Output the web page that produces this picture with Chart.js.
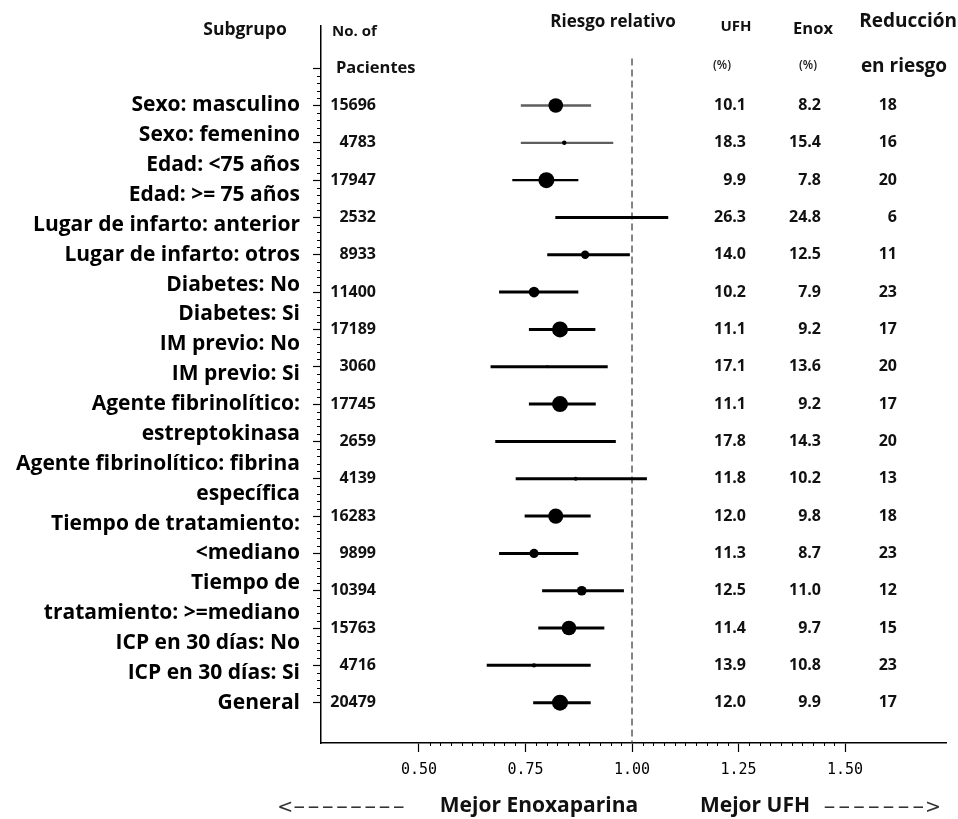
<!DOCTYPE html>
<html>
<head>
<meta charset="utf-8">
<script src="https://cdn.jsdelivr.net/npm/chart.js@4.4.1/dist/chart.umd.min.js"></script>
<style>
  html, body { margin: 0; padding: 0; background: #fff; }
  #wrap { width: 958px; height: 819px; position: relative; }
</style>
</head>
<body>
<div id="wrap"><canvas id="c" width="958" height="819"></canvas></div>
<script>
// ---------------- DATA ----------------
const subgroupLabels = [
  'Sexo: masculino', 'Sexo: femenino', 'Edad: <75 años', 'Edad: >= 75 años',
  'Lugar de infarto: anterior', 'Lugar de infarto: otros', 'Diabetes: No', 'Diabetes: Si',
  'IM previo: No', 'IM previo: Si', 'Agente fibrinolítico:', 'estreptokinasa',
  'Agente fibrinolítico: fibrina', 'específica', 'Tiempo de tratamiento:', '<mediano',
  'Tiempo de', 'tratamiento: >=mediano', 'ICP en 30 días: No', 'ICP en 30 días: Si', 'General'
];
const patients = [15696, 4783, 17947, 2532, 8933, 11400, 17189, 3060, 17745, 2659, 4139, 16283, 9899, 10394, 15763, 4716, 20479];
const relativeRisk = [0.821, 0.841, 0.799, 0.939, 0.890, 0.770, 0.831, 0.801, 0.831, 0.799, 0.868, 0.821, 0.770, 0.882, 0.852, 0.770, 0.831];
const ciLower = [0.739, 0.739, 0.719, 0.820, 0.801, 0.688, 0.758, 0.668, 0.758, 0.679, 0.727, 0.748, 0.688, 0.789, 0.780, 0.659, 0.768];
const ciUpper = [0.904, 0.956, 0.874, 1.085, 0.995, 0.874, 0.914, 0.943, 0.915, 0.962, 1.035, 0.903, 0.874, 0.981, 0.935, 0.903, 0.903];
const ufhPct = [10.1, 18.3, 9.9, 26.3, 14.0, 10.2, 11.1, 17.1, 11.1, 17.8, 11.8, 12.0, 11.3, 12.5, 11.4, 13.9, 12.0];
const enoxPct = [8.2, 15.4, 7.8, 24.8, 12.5, 7.9, 9.2, 13.6, 9.2, 14.3, 10.2, 9.8, 8.7, 11.0, 9.7, 10.8, 9.9];
const riskReduction = [18, 16, 20, 6, 11, 23, 17, 20, 17, 20, 13, 18, 23, 12, 15, 23, 17];
const xTickValues = [0.50, 0.75, 1.00, 1.25, 1.50];
const referenceRR = 1.00;

// ---------------- BUILD ----------------
const rows = patients.map((_, i) => i);
const labelPositions = subgroupLabels.map((_, i) => i * 0.8);
const Y_MIN = -2.14, Y_MAX = 17.08;
const markerRadius = n => Math.max(1.1, Math.min(8, n / 2150));

const ciDatasets = rows.map(i => ({
  type: 'scatter',
  showLine: true,
  data: [{ x: ciLower[i], y: i }, { x: ciUpper[i], y: i }],
  borderColor: i < 2 ? '#5e5e5e' : '#000',
  borderWidth: i < 3 ? 2.3 : 3,
  pointRadius: 0,
  order: 2
}));

const pointDataset = {
  type: 'scatter',
  data: rows.map(i => ({ x: relativeRisk[i], y: i })),
  backgroundColor: '#000',
  borderColor: '#000',
  borderWidth: 0,
  pointRadius: ctx => markerRadius(patients[ctx.dataIndex]),
  pointHoverRadius: ctx => markerRadius(patients[ctx.dataIndex]),
  order: 0
};

const refDataset = {
  type: 'scatter',
  showLine: true,
  data: [{ x: referenceRR, y: -1.26 }, { x: referenceRR, y: Y_MAX }],
  borderColor: '#444',
  borderWidth: 1.3,
  borderDash: [7, 4],
  pointRadius: 0,
  order: 3
};

const minorTicks = {
  id: 'minorTicks',
  afterDraw(chart) {
    const ctx = chart.ctx;
    const xs = chart.scales.x, ys = chart.scales.y;
    const left = chart.chartArea.left, bottom = chart.chartArea.bottom;
    ctx.save();
    ctx.strokeStyle = '#000';
    ctx.lineWidth = 1;
    ctx.beginPath();
    for (let s = -5; s <= 16 * 5; s++) {
      if (s % 5 === 0) continue;
      const y = Math.round(ys.getPixelForValue(s / 5)) + 0.5;
      ctx.moveTo(left - 4, y); ctx.lineTo(left, y);
    }
    for (let s = 20; s <= 60; s++) {
      if (s % 10 === 0) continue;
      const x = Math.round(xs.getPixelForValue(s * 0.025)) + 0.5;
      ctx.moveTo(x, bottom); ctx.lineTo(x, bottom + 3);
    }
    ctx.stroke();
    ctx.restore();
  }
};

// draws an arrow string char by char; dashes are stretched horizontally
function arrowText(ctx, str, x, y, step) {
  for (let i = 0; i < str.length; i++) {
    const ch = str[i];
    const cx = x + i * step + step / 2;
    ctx.save();
    ctx.translate(cx, y);
    if (ch === '-') ctx.scale(1.9, 1);
    ctx.textAlign = 'center';
    ctx.fillText(ch, 0, 0);
    ctx.restore();
  }
}

const tableText = {
  id: 'tableText',
  afterDraw(chart) {
    const ctx = chart.ctx;
    const ys = chart.scales.y;
    ctx.save();
    ctx.fillStyle = '#111';
    ctx.textBaseline = 'middle';
    // columns
    ctx.font = 'bold 16px "Open Sans", sans-serif';
    rows.forEach(i => {
      const y = ys.getPixelForValue(i);
      ctx.textAlign = 'right';
      ctx.fillText(String(patients[i]), 376, y);
      ctx.fillText(ufhPct[i].toFixed(1), 746, y);
      ctx.fillText(enoxPct[i].toFixed(1), 821, y);
      ctx.fillText(String(riskReduction[i]), 897, y);
    });
    // headers
    ctx.textAlign = 'center';
    ctx.font = 'bold 17.5px "Open Sans", sans-serif';
    ctx.fillText('Subgrupo', 245, 30);
    ctx.font = 'bold 17px "Open Sans", sans-serif';
    ctx.fillText('Riesgo relativo', 613, 22);
    ctx.font = 'bold 15px "Open Sans", sans-serif';
    ctx.fillText('UFH', 736, 27);
    ctx.font = 'bold 16.5px "Open Sans", sans-serif';
    ctx.fillText('Enox', 813, 29);
    ctx.textAlign = 'right';
    ctx.font = 'bold 19px "Open Sans", sans-serif';
    ctx.fillText('Reducción', 957, 22);
    ctx.textAlign = 'left';
    ctx.font = 'bold 15px "Open Sans", sans-serif';
    ctx.fillText('No. of', 332, 32);
    ctx.font = 'bold 16.5px "Open Sans", sans-serif';
    ctx.fillText('Pacientes', 336, ys.getPixelForValue(-1));
    ctx.textAlign = 'center';
    ctx.font = 'bold 19px "Open Sans", sans-serif';
    ctx.fillText('en riesgo', 904, 67);
    ctx.font = '600 12px "Open Sans", sans-serif';
    ctx.fillStyle = '#222';
    ctx.fillText('(%)', 722, 66);
    ctx.fillText('(%)', 808, 66);
    // bottom direction labels
    ctx.font = 'bold 21px "Open Sans", sans-serif';
    ctx.fillStyle = '#111';
    ctx.fillText('Mejor Enoxaparina', 539, 806);
    ctx.fillText('Mejor UFH', 755, 806);
    ctx.font = '19px "DejaVu Sans", sans-serif';
    ctx.fillStyle = '#333';
    arrowText(ctx, '<--------', 278, 808, 14.2);
    arrowText(ctx, '------->', 822, 808, 14.8);
    ctx.restore();
  }
};

new Chart(document.getElementById('c'), {
  type: 'scatter',
  data: { datasets: [pointDataset, ...ciDatasets, refDataset] },
  options: {
    responsive: false,
    animation: false,
    layout: { padding: { top: 25, right: 12, left: 0, bottom: 0 } },
    plugins: { legend: { display: false }, tooltip: { enabled: false } },
    scales: {
      x: {
        type: 'linear',
        position: 'bottom',
        min: 0.27,
        max: 1.737,
        afterBuildTicks: s => { s.ticks = xTickValues.map(v => ({ value: v })); },
        afterFit: s => { s.height = 76; },
        grid: { drawOnChartArea: false, tickLength: 9, color: '#000', tickWidth: 1.2 },
        border: { color: '#000', width: 1.5 },
        ticks: {
          callback: v => Number(v).toFixed(2),
          font: { family: '"DejaVu Sans Mono", monospace', size: 15 },
          color: '#000',
          padding: 9,
          maxRotation: 0,
          autoSkip: false
        }
      },
      y: {
        type: 'linear',
        position: 'left',
        weight: 0,
        reverse: true,
        min: Y_MIN,
        max: Y_MAX,
        afterBuildTicks: s => { s.ticks = [-1, ...rows].map(v => ({ value: v })); },
        afterFit: s => { s.width = 8; },
        grid: { drawOnChartArea: false, tickLength: 8, color: '#000', tickWidth: 1.2 },
        border: { color: '#000', width: 1.5 },
        ticks: { display: false }
      },
      yLabels: {
        type: 'linear',
        position: 'left',
        weight: 1,
        reverse: true,
        min: Y_MIN,
        max: Y_MAX,
        afterBuildTicks: s => { s.ticks = labelPositions.map(v => ({ value: v })); },
        afterFit: s => { s.width = 313; },
        grid: { display: false, drawTicks: false },
        border: { display: false },
        ticks: {
          autoSkip: false,
          padding: 13,
          color: '#000',
          font: { family: '"Open Sans", sans-serif', size: 21, weight: 'bold' },
          callback: (v, idx) => subgroupLabels[idx]
        }
      }
    }
  },
  plugins: [minorTicks, tableText]
});
</script>
</body>
</html>
